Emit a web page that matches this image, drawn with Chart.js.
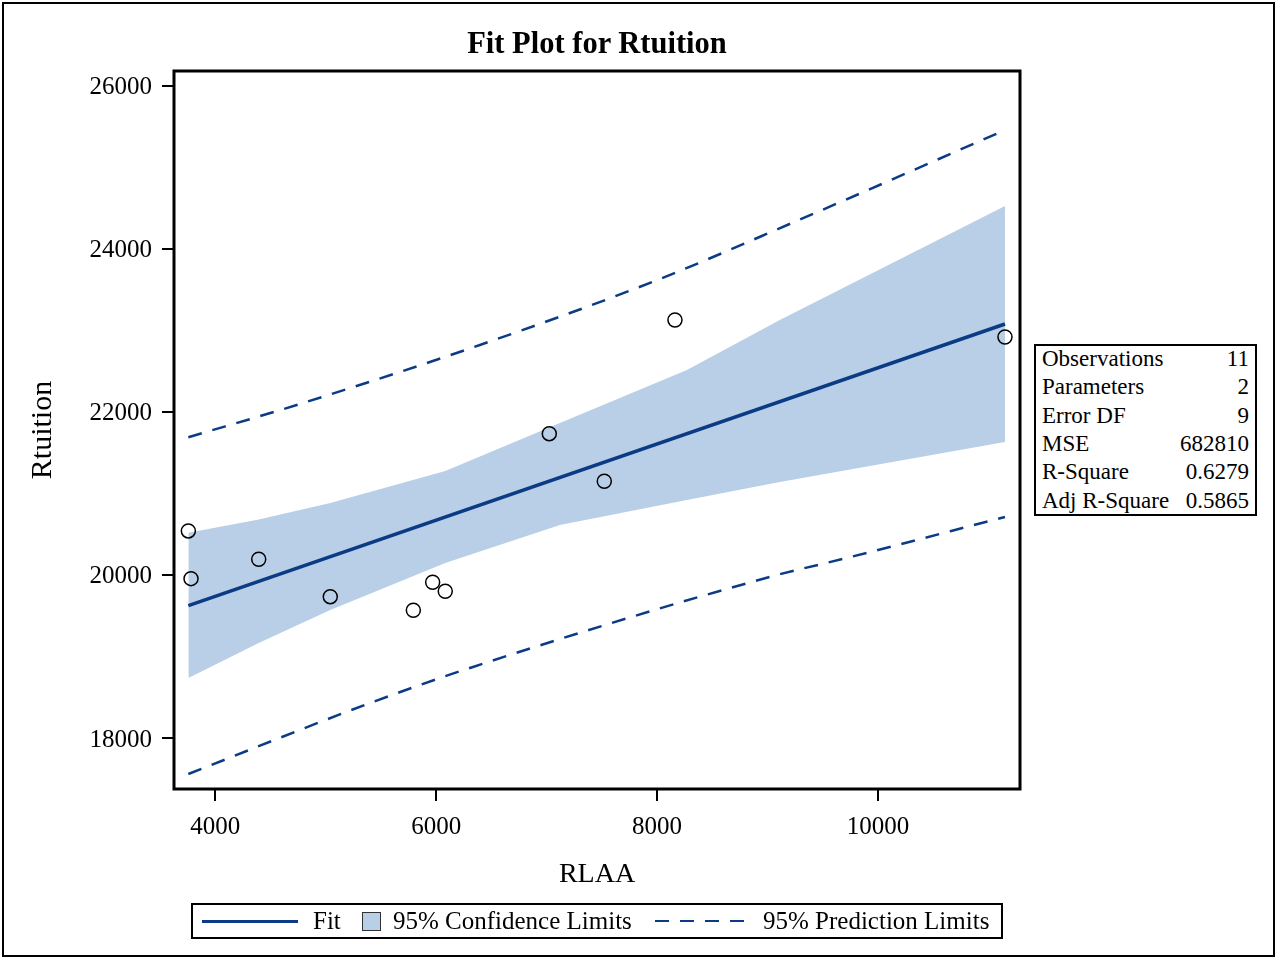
<!DOCTYPE html>
<html>
<head>
<meta charset="utf-8">
<script src="https://cdn.jsdelivr.net/npm/chart.js@4.4.1/dist/chart.umd.min.js"></script>
<style>
    body { margin: 0; background: #fff; font-family: 'Liberation Serif', 'Times New Roman', serif; }
    #wrap { position: relative; width: 1279px; height: 961px; overflow: hidden; }
    #frame { position: absolute; left: 2px; top: 2px; width: 1273px; height: 955px; border: 2px solid #000; box-sizing: border-box; }
    #chart { position: absolute; left: 0; top: 0; }
    #title { position: absolute; left: 174px; width: 846px; top: 25px; text-align: center; font-weight: bold; font-size: 30.5px; line-height: 36px; }
    #stats { position: absolute; left: 1034px; top: 344px; width: 223px; height: 172px; border: 2px solid #000; box-sizing: border-box; background: #fff; padding: 0 6px 0 6px; font-size: 23px; }
    #stats table { border-collapse: collapse; width: 100%; margin-top: -1px; }
    #stats td { padding: 0; height: 28.3px; line-height: 28px; white-space: nowrap; }
    #stats td.v { text-align: right; }
    #legend { position: absolute; left: 191px; top: 903px; width: 812px; height: 36px; border: 2px solid #000; box-sizing: border-box; font-size: 25px; line-height: 32px; white-space: nowrap; }
    #legend span { position: absolute; top: 0; }
    #legend i { position: absolute; display: block; }
</style>
</head>
<body>
<div id="wrap">
    <div id="frame"></div>
    <canvas id="chart" width="1279" height="961"></canvas>
    <div id="title">Fit Plot for Rtuition</div>
    <div id="stats"><table id="stats-table"></table></div>
    <div id="legend">
        <i style="left:9px;top:15px;width:96px;height:3px;background:#0b3b85"></i>
        <span style="left:120px">Fit</span>
        <i style="left:169px;top:7px;width:17px;height:17px;background:#b9cfe7;border:1px solid #333"></i>
        <span style="left:200px">95% Confidence Limits</span>
        <i style="left:462px;top:15px;width:93px;height:2px;background:repeating-linear-gradient(90deg,#0b3b85 0 14px,transparent 14px 25px)"></i>
        <span style="left:570px">95% Prediction Limits</span>
    </div>
</div>
<script>
// observations
const obs_x = [3756, 3780, 4393, 5041, 5793, 5968, 6082, 7024, 7522, 8162, 11150];
const obs_y = [20539, 19954, 20192, 19733, 19566, 19910, 19799, 21732, 21148, 23126, 22918];

// fit line
const fit_x = [3756, 11150];
const fit_y = [19622, 23077];

// 95% confidence band
const band_x = [3756, 4393, 5041, 6082, 7120, 8270, 9111, 11150];
const band_upper = [20518, 20680, 20882, 21274, 21863, 22513, 23126, 24524];
const band_lower = [18736, 19165, 19570, 20146, 20612, 20919, 21140, 21630];

// 95% prediction limits
const pred_up_x = [3756, 4737, 6396, 7980, 9221, 11150];
const pred_up_y = [21688, 22084, 22820, 23605, 24316, 25456];
const pred_lo_x = [3756, 5428, 6333, 9020, 9718, 11150];
const pred_lo_y = [17558, 18442, 18871, 19975, 20208, 20710];

const x_ticks = [4000, 6000, 8000, 10000];
const y_ticks = [18000, 20000, 22000, 24000, 26000];

const stats_labels = ['Observations', 'Parameters', 'Error DF', 'MSE', 'R-Square', 'Adj R-Square'];
const stats_values = ['11', '2', '9', '682810', '0.6279', '0.5865'];

const fit_color = '#0b3b85';
const band_color = '#b9cfe7';

const pts = (xs, ys) => xs.map((x, i) => ({ x, y: ys[i] }));

const tbl = document.getElementById('stats-table');
stats_labels.forEach((l, i) => {
    const tr = document.createElement('tr');
    tr.innerHTML = `<td>${l}</td><td class="v">${stats_values[i]}</td>`;
    tbl.appendChild(tr);
});

// frame around the plot area
const frame_plugin = {
    id: 'frame',
    afterDatasetsDraw(chart) {
        const { ctx, chartArea: a } = chart;
        ctx.save();
        ctx.strokeStyle = '#000';
        ctx.lineWidth = 3;
        ctx.strokeRect(a.left, a.top, a.right - a.left, a.bottom - a.top);
        ctx.restore();
    },
};

const font = { family: "'Liberation Serif', 'Times New Roman', serif" };

const ctx = document.getElementById('chart').getContext('2d');
const chart = new Chart(ctx, {
    type: 'scatter',
    data: {
        datasets: [
            {
                label: 'obs',
                data: pts(obs_x, obs_y),
                pointRadius: 7,
                pointHoverRadius: 7,
                pointBorderWidth: 1.5,
                pointBorderColor: '#000',
                pointBackgroundColor: 'rgba(0,0,0,0)',
                showLine: false,
            },
            {
                label: 'Fit',
                data: pts(fit_x, fit_y),
                showLine: true,
                borderColor: fit_color,
                borderWidth: 3.5,
                pointRadius: 0,
            },
            {
                label: 'pred upper',
                data: pts(pred_up_x, pred_up_y),
                showLine: true,
                borderColor: fit_color,
                borderWidth: 2.5,
                borderDash: [14, 11],
                cubicInterpolationMode: 'monotone',
                pointRadius: 0,
            },
            {
                label: 'pred lower',
                data: pts(pred_lo_x, pred_lo_y),
                showLine: true,
                borderColor: fit_color,
                borderWidth: 2.5,
                borderDash: [14, 11],
                cubicInterpolationMode: 'monotone',
                pointRadius: 0,
            },
            {
                label: 'band lower',
                data: pts(band_x, band_lower),
                showLine: true,
                borderWidth: 0,
                borderColor: 'rgba(0,0,0,0)',
                pointRadius: 0,
            },
            {
                label: 'band upper',
                data: pts(band_x, band_upper),
                showLine: true,
                borderWidth: 0,
                borderColor: 'rgba(0,0,0,0)',
                backgroundColor: band_color,
                fill: 4,
                pointRadius: 0,
            },
        ],
    },
    options: {
        responsive: false,
        animation: false,
        layout: { padding: { left: 0, top: 71, right: 259, bottom: 62 } },
        scales: {
            x: {
                type: 'linear',
                min: 3626,
                max: 11286,
                afterBuildTicks: s => { s.ticks = x_ticks.map(value => ({ value })); },
                afterFit: s => { s.height = 110; },
                border: { display: false },
                grid: { drawOnChartArea: false, drawTicks: true, tickLength: 12, color: '#000', lineWidth: 2 },
                ticks: { color: '#000', padding: 11, maxRotation: 0, font: { ...font, size: 25 }, callback: v => String(v) },
                title: { display: true, text: 'RLAA', color: '#000', font: { ...font, size: 28 }, padding: { top: 0, bottom: 8 } },
            },
            y: {
                min: 17374,
                max: 26180,
                afterBuildTicks: s => { s.ticks = y_ticks.map(value => ({ value })); },
                afterFit: s => { s.width = 174; },
                border: { display: false },
                grid: { drawOnChartArea: false, drawTicks: true, tickLength: 12, color: '#000', lineWidth: 2 },
                ticks: { color: '#000', padding: 10, labelOffset: 2, font: { ...font, size: 25 }, callback: v => String(v) },
                title: { display: true, text: 'Rtuition', color: '#000', font: { ...font, size: 30 }, padding: { top: 25, bottom: 0 } },
            },
        },
        plugins: {
            legend: { display: false },
            tooltip: { enabled: false },
        },
    },
    plugins: [frame_plugin],
});
</script>
</body>
</html>
